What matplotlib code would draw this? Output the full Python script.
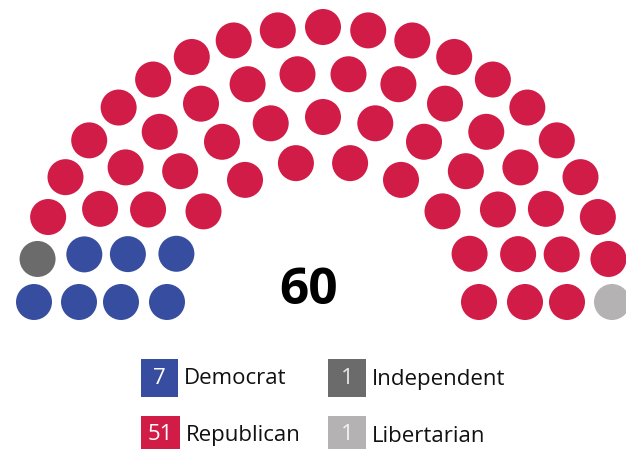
import matplotlib
matplotlib.use("Agg")
import matplotlib.pyplot as plt
from matplotlib.patches import Circle, Rectangle
import numpy as np

# party data
parties = ["Democrat", "Independent", "Republican", "Libertarian"]
seats = [7, 1, 51, 1]
colors = ["#374ea0", "#6b6b6b", "#d11c48", "#b4b2b2"]
label_colors = ["white", "#e8e8e8", "white", "#f2f2f2"]
total = 60

# seats in each arc, inner to outer
row_seats = [10, 13, 16, 21]

# arc geometry (pixels)
cx, cy = 323, 302
row_rx = [156, 202, 244, 289]
row_ry = [141, 185, 229, 275]
dot_r = 18

fig = plt.figure(figsize=(6.26, 4.49), dpi=100)
ax = fig.add_axes([0, 0, 1, 1])
ax.set_xlim(0, 626)
ax.set_ylim(449, 0)
ax.set_aspect("equal")
ax.axis("off")

# build seat positions
pos = []
for r in range(len(row_seats)):
    n = row_seats[r]
    for j in range(n):
        a = np.pi - np.pi * j / (n - 1)
        x = cx + row_rx[r] * np.cos(a)
        y = cy - row_ry[r] * np.sin(a)
        if j < 2:
            key = (0, j, r)
        else:
            key = (1, -a, r)
        pos.append((key, x, y))
pos.sort(key=lambda p: p[0])

seat_colors = []
for i in range(len(parties)):
    seat_colors += [colors[i]] * seats[i]

for (key, x, y), c in zip(pos, seat_colors):
    ax.add_patch(Circle((x, y), dot_r, color=c, lw=0))

ax.text(309, 291, str(total), fontsize=37, fontweight="bold", family="Open Sans",
        ha="center", va="center", color="black")

# legend
box_x = [141, 328, 141, 328]
box_y = [359, 359, 416, 416]
box_w = [37, 38, 39, 38]
box_h = 38
for i in range(len(parties)):
    ax.add_patch(Rectangle((box_x[i], box_y[i]), box_w[i], box_h, color=colors[i], lw=0))
    ax.text(box_x[i] + box_w[i] / 2, box_y[i] + box_h / 2, str(seats[i]), fontsize=16,
            family="Open Sans", ha="center", va="center", color=label_colors[i])
    ax.text(box_x[i] + box_w[i] + 6, box_y[i] + box_h / 2 + 1, parties[i], fontsize=16,
            family="Open Sans", ha="left", va="center", color="#111111")

fig.savefig("out.png", dpi=100)
